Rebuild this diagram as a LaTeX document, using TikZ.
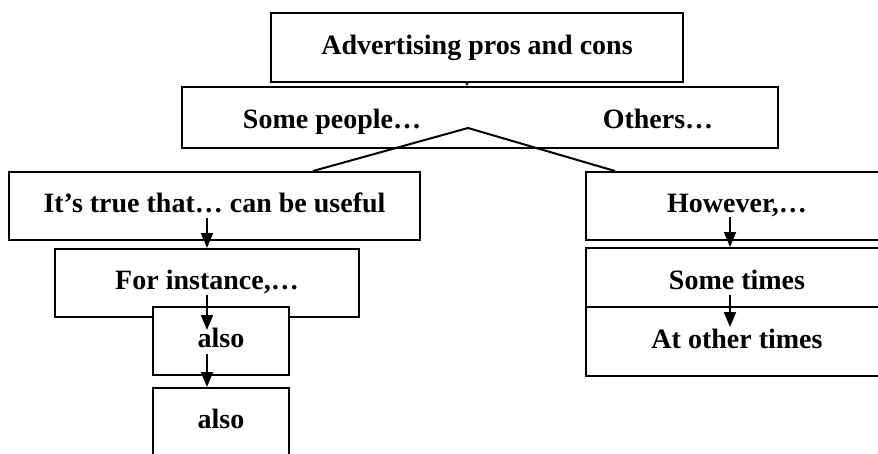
\documentclass[tikz,border=0pt]{standalone}
\usepackage{fontspec}
\setmainfont{Liberation Serif}
\usetikzlibrary{arrows.meta}
\tikzset{box/.style={draw, line width=2pt, fill=white, inner sep=0pt,
   font=\fontsize{28}{34}\selectfont\bfseries, text height=19pt, text depth=6pt},
 word/.style={inner sep=0pt, font=\fontsize{28}{34}\selectfont\bfseries, text height=19pt, text depth=6pt},
 arr/.style={line width=2pt, -{Triangle[width=12pt,length=15pt]}}}

\begin{document}
\begin{tikzpicture}[x=1pt,y=-1pt]
 \useasboundingbox (0,0) rectangle (878,453);
 \clip (0,0) rectangle (878,453);
 % top boxes
 \node[box, minimum width=412pt, minimum height=69pt] (title) at (477,47.5) {Advertising pros and cons};
 \node[box, minimum width=596pt, minimum height=61pt] (people) at (480,117.5) {};
 \node[word] (somepeople) at (332,121.5) {Some people…};
 \node[word] (others) at (658,121.5) {Others…};
 \draw[line width=1pt, -{Triangle[width=5pt,length=5pt]}] (467,82) -- (people.north -| 467,0);
 % left column
 \node[box, minimum width=411pt, minimum height=68pt] (truebox) at (214.5,206) {It’s true that… can be useful};
 \node[box, minimum width=304pt, minimum height=68pt] (instance) at (207,283) {For instance,…};
 \node[box, minimum width=136pt, minimum height=68pt] (also1) at (221,341) {also};
 \node[box, minimum width=136pt, minimum height=68pt] (also2) at (221,422) {also};
 % right column
 \node[box, minimum width=302pt, minimum height=68pt] (however) at (737,205.5) {However,…};
 \node[box, minimum width=302pt, minimum height=59pt, text height=24pt, text depth=0pt] (sometimes) at (737,277.5) {Some times};
 \node[box, minimum width=302pt, minimum height=69pt] (othertimes) at (737,341.5) {At other times};
 % split lines
 \coordinate (apex) at (468,128);
 \coordinate (lfoot) at (313,171);
 \coordinate (rfoot) at (615,171);
 \draw[line width=2pt] (lfoot) -- (apex) -- (rfoot);
 % arrows
 \coordinate (a1) at (207,218);
 \coordinate (a2) at (207,295);
 \coordinate (a2tip) at (207,330);
 \coordinate (a3) at (207,354);
 \coordinate (b1) at (730,217);
 \coordinate (b2) at (730,295);
 \coordinate (b2tip) at (730,327);
 \draw[arr] (a1) -- (instance.north -| a1);
 \draw[arr] (a2) -- (a2tip);
 \draw[arr] (a3) -- (also2.north -| a3);
 \draw[arr] (b1) -- (sometimes.north -| b1);
 \draw[arr] (b2) -- (b2tip);
\end{tikzpicture}
\end{document}
